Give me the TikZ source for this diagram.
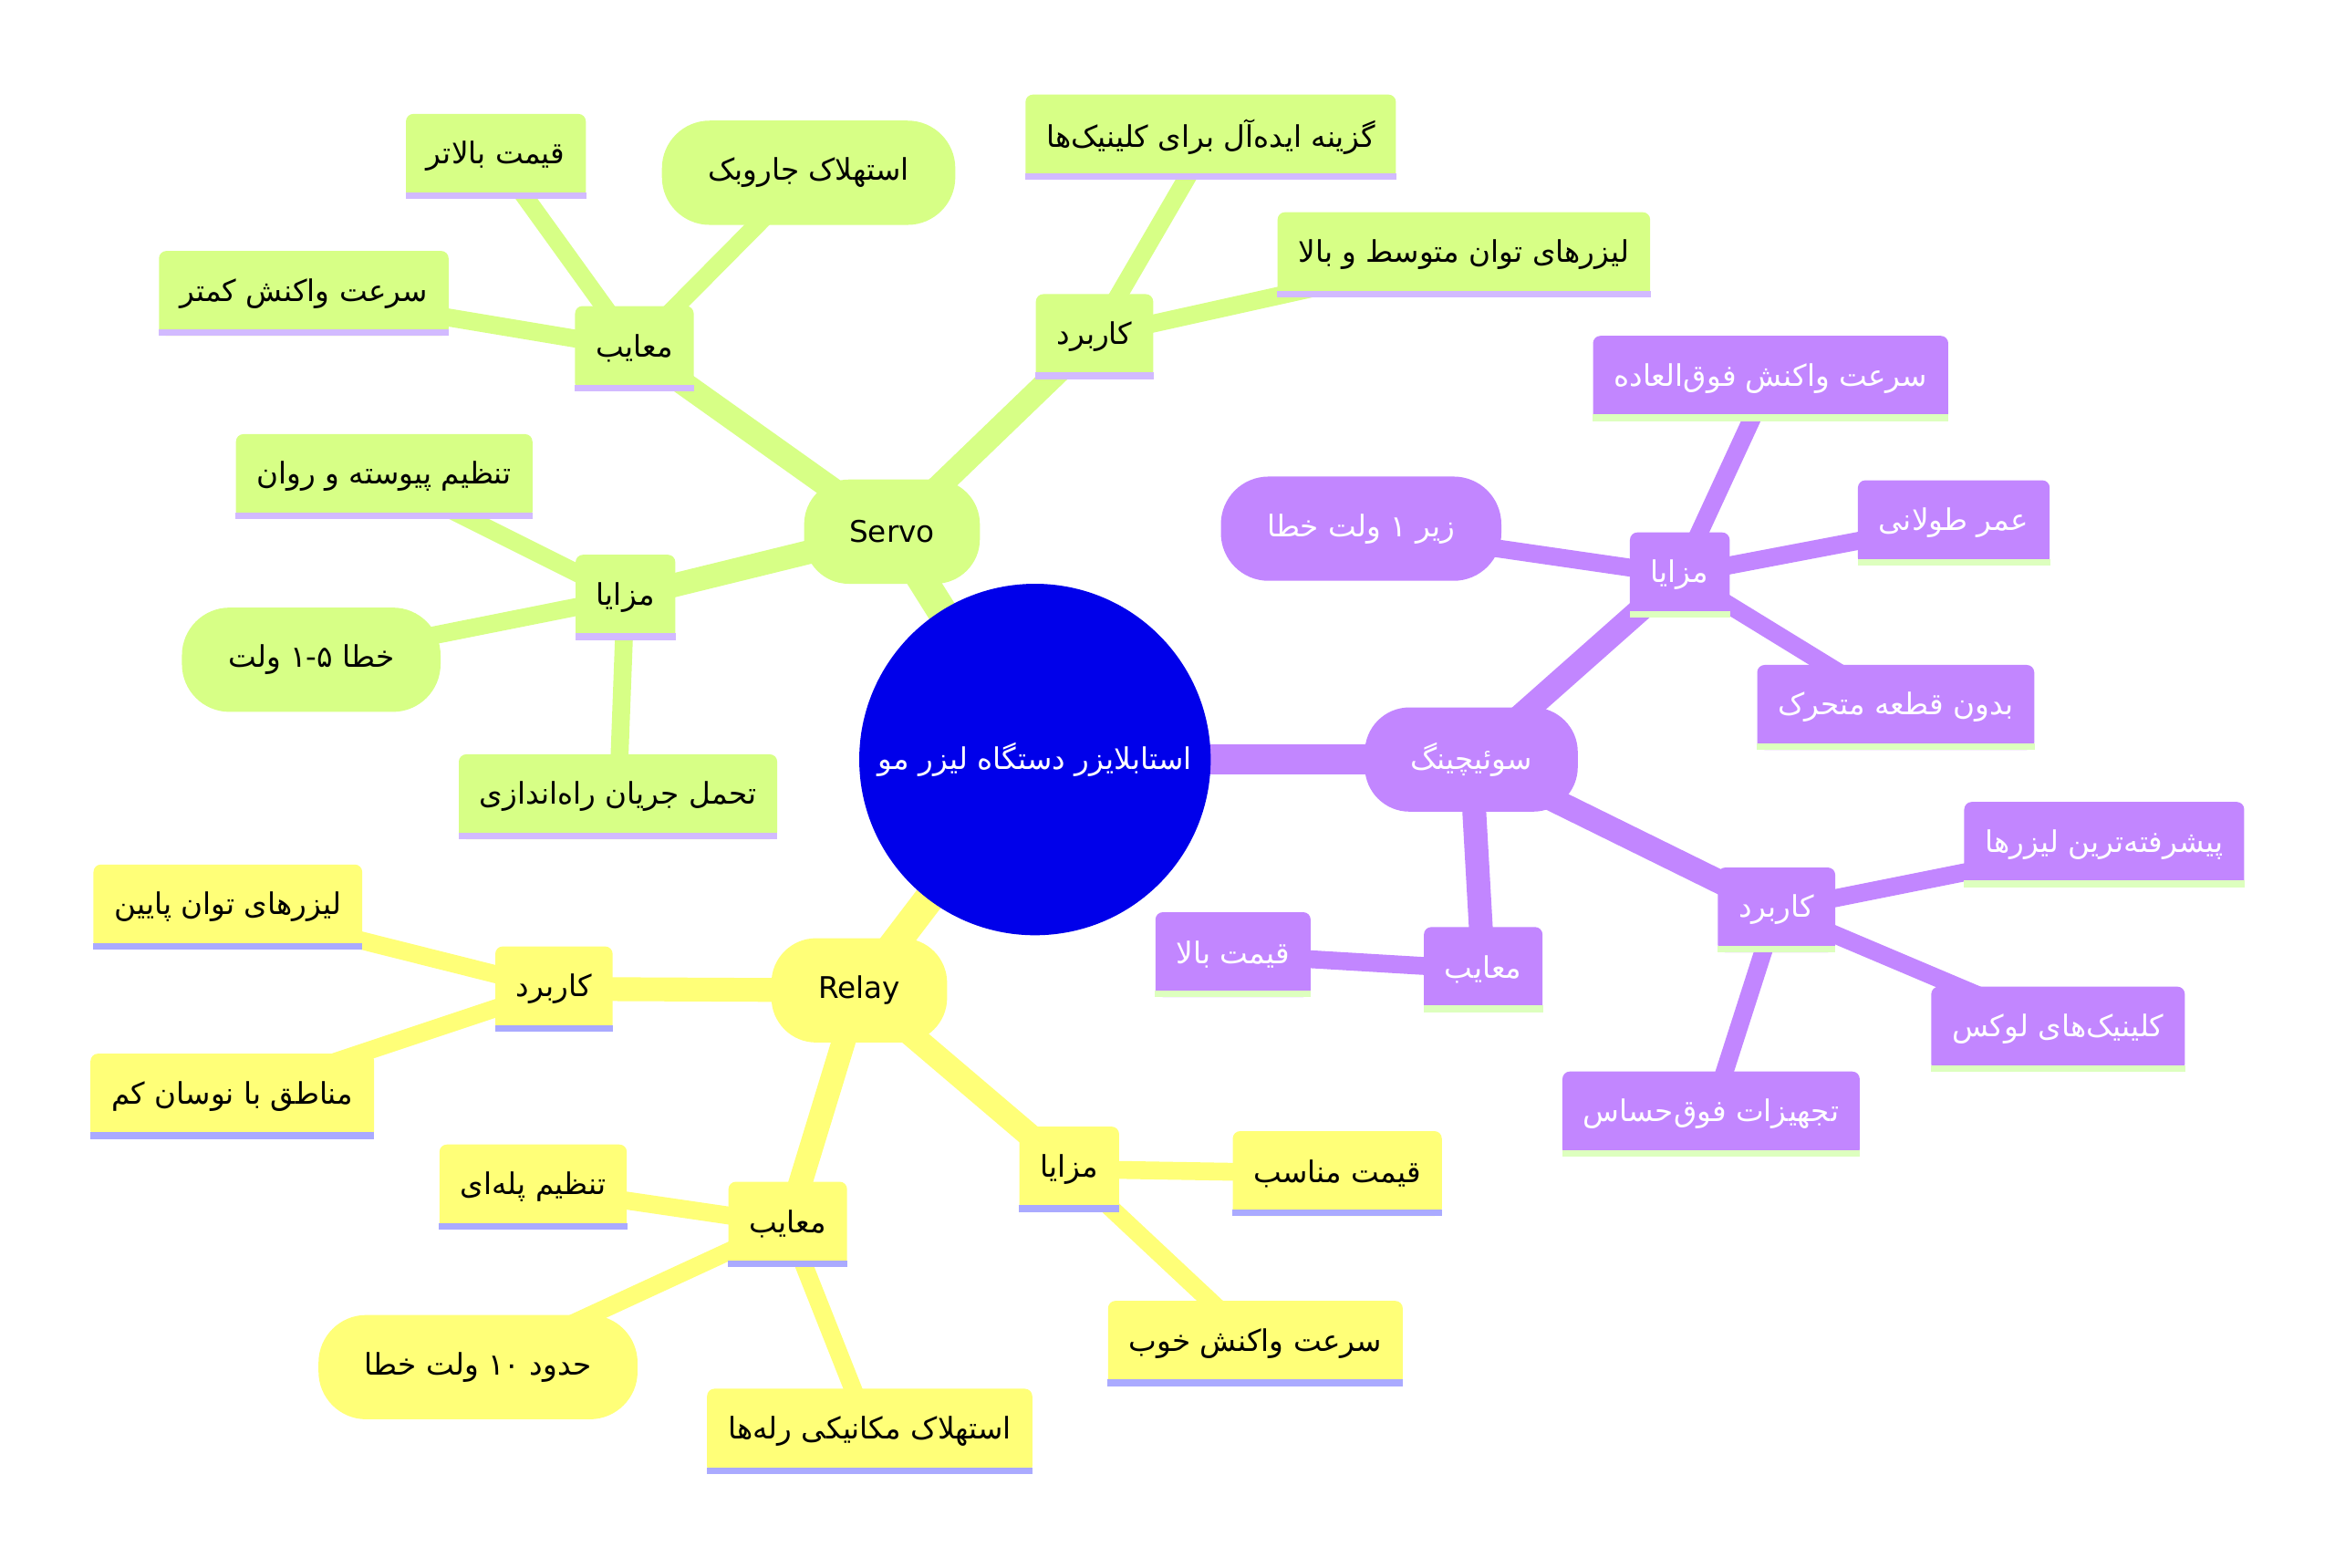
\documentclass[tikz,border=0pt]{standalone}
\usepackage{fontspec}
\setmainfont{DejaVu Sans}
\newfontfamily\arfont[Script=Arabic]{DejaVu Sans}
\TeXXeTstate=1
\usetikzlibrary{backgrounds}

\definecolor{rootblue}{RGB}{0,0,234}
\definecolor{servogreen}{RGB}{215,255,134}
\definecolor{relayyellow}{RGB}{255,255,120}
\definecolor{switchpurple}{RGB}{194,134,255}
\definecolor{servoline}{RGB}{210,186,255}
\definecolor{relayline}{RGB}{170,170,255}
\definecolor{switchline}{RGB}{221,255,190}

\newcommand\fatext[1]{\arfont\beginR #1\endR}

\tikzset{
  every node/.style={font=\fontsize{20}{24}\selectfont},
  rootnode/.style={circle, fill=rootblue, minimum size=236pt, inner sep=0pt, text=white},
  topnode/.style={rounded corners=30pt, minimum height=70pt, minimum width=118pt, inner xsep=18pt},
  leaf/.style={rounded corners=5pt, minimum height=57pt, inner xsep=14pt},
  pill/.style={rounded corners=32pt, minimum height=70pt, inner xsep=31pt},
  servofill/.style={fill=servogreen, text=black},
  relayfill/.style={fill=relayyellow, text=black},
  switchfill/.style={fill=switchpurple, text=white},
  lvlone/.style={line width=20pt},
  lvltwo/.style={line width=16pt},
  lvlthree/.style={line width=12pt}
}

\begin{document}
\begin{tikzpicture}[x=1pt, y=-1pt]
  \useasboundingbox (0,0) rectangle (1568,1052.3);

  % root
  \node[rootnode] (root) at (695,510) {\fatext{استابلایزر دستگاه لیزر مو}};

  % Servo branch
  \node[topnode, servofill] (servo) at (599,357) {Servo};
  \node[leaf, servofill] (sCons) at (426,234) {\fatext{معایب}};
  \node[leaf, servofill] (sConsA) at (333,105) {\fatext{قیمت بالاتر}};
  \node[pill, servofill] (sConsB) at (543,116) {\fatext{استهلاک جاروبک}};
  \node[leaf, servofill] (sConsC) at (204,197) {\fatext{سرعت واکنش کمتر}};
  \node[leaf, servofill] (sUse) at (735,226) {\fatext{کاربرد}};
  \node[leaf, servofill] (sUseA) at (813,92) {\fatext{گزینه ایده‌آل برای کلینیک‌ها}};
  \node[leaf, servofill] (sUseB) at (983,171) {\fatext{لیزرهای توان متوسط و بالا}};
  \node[leaf, servofill] (sPros) at (420,401) {\fatext{مزایا}};
  \node[leaf, servofill] (sProsA) at (258,320) {\fatext{تنظیم پیوسته و روان}};
  \node[pill, servofill] (sProsB) at (209,443) {\fatext{خطا \beginL۱-۵\endL{} ولت}};
  \node[leaf, servofill] (sProsC) at (415,535) {\fatext{تحمل جریان راه‌اندازی}};

  % Relay branch
  \node[topnode, relayfill] (relay) at (577,665) {Relay};
  \node[leaf, relayfill] (rUse) at (372,664) {\fatext{کاربرد}};
  \node[leaf, relayfill] (rUseA) at (153,609) {\fatext{لیزرهای توان پایین}};
  \node[leaf, relayfill] (rUseB) at (156,736) {\fatext{مناطق با نوسان کم}};
  \node[leaf, relayfill] (rCons) at (529,822) {\fatext{معایب}};
  \node[leaf, relayfill] (rConsA) at (358,797) {\fatext{تنظیم پله‌ای}};
  \node[pill, relayfill] (rConsB) at (321,918) {\fatext{حدود \beginL۱۰\endL{} ولت خطا}};
  \node[leaf, relayfill] (rConsC) at (584,961) {\fatext{استهلاک مکانیکی رله‌ها}};
  \node[leaf, relayfill] (rPros) at (718,785) {\fatext{مزایا}};
  \node[leaf, relayfill] (rProsA) at (898,788) {\fatext{قیمت مناسب}};
  \node[leaf, relayfill] (rProsB) at (843,902) {\fatext{سرعت واکنش خوب}};

  % Switching branch
  \node[topnode, switchfill, minimum width=143pt] (swtch) at (988,510) {\fatext{سوئیچینگ}};
  \node[leaf, switchfill] (wPros) at (1128,386) {\fatext{مزایا}};
  \node[leaf, switchfill] (wProsA) at (1189,254) {\fatext{سرعت واکنش فوق‌العاده}};
  \node[pill, switchfill] (wProsB) at (914,355) {\fatext{زیر ۱ ولت خطا}};
  \node[leaf, switchfill] (wProsC) at (1312,351) {\fatext{عمر طولانی}};
  \node[leaf, switchfill] (wProsD) at (1273,475) {\fatext{بدون قطعه متحرک}};
  \node[leaf, switchfill] (wUse) at (1193,611) {\fatext{کاربرد}};
  \node[leaf, switchfill] (wUseA) at (1413,567) {\fatext{پیشرفته‌ترین لیزرها}};
  \node[leaf, switchfill] (wUseB) at (1382,691) {\fatext{کلینیک‌های لوکس}};
  \node[leaf, switchfill] (wUseC) at (1149,748) {\fatext{تجهیزات فوق‌حساس}};
  \node[leaf, switchfill] (wCons) at (996,651) {\fatext{معایب}};
  \node[leaf, switchfill] (wConsA) at (828,641) {\fatext{قیمت بالا}};

  % underlines
  \foreach \n in {sCons, sConsA, sConsC, sUse, sUseA, sUseB, sPros, sProsA, sProsC}
    \fill[servoline] (\n.south west) rectangle ([yshift=4.5pt]\n.south east);
  \foreach \n in {rUse, rUseA, rUseB, rCons, rConsA, rConsC, rPros, rProsA, rProsB}
    \fill[relayline] (\n.south west) rectangle ([yshift=4.5pt]\n.south east);
  \foreach \n in {wPros, wProsA, wProsC, wProsD, wUse, wUseA, wUseB, wUseC, wCons, wConsA}
    \fill[switchline] (\n.south west) rectangle ([yshift=4.5pt]\n.south east);

  % edges
  \begin{scope}[on background layer]
    \draw[servogreen, lvlone] (root.center) -- (servo.center);
    \draw[relayyellow, lvlone] (root.center) -- (relay.center);
    \draw[switchpurple, lvlone] (root.center) -- (swtch.center);
    \foreach \a/\b in {servo/sCons, servo/sUse, servo/sPros}
      \draw[servogreen, lvltwo] (\a.center) -- (\b.center);
    \foreach \a/\b in {sCons/sConsA, sCons/sConsB, sCons/sConsC, sUse/sUseA, sUse/sUseB,
                       sPros/sProsA, sPros/sProsB, sPros/sProsC}
      \draw[servogreen, lvlthree] (\a.center) -- (\b.center);
    \foreach \a/\b in {relay/rUse, relay/rCons, relay/rPros}
      \draw[relayyellow, lvltwo] (\a.center) -- (\b.center);
    \foreach \a/\b in {rUse/rUseA, rUse/rUseB, rCons/rConsA, rCons/rConsB, rCons/rConsC,
                       rPros/rProsA, rPros/rProsB}
      \draw[relayyellow, lvlthree] (\a.center) -- (\b.center);
    \foreach \a/\b in {swtch/wPros, swtch/wUse, swtch/wCons}
      \draw[switchpurple, lvltwo] (\a.center) -- (\b.center);
    \foreach \a/\b in {wPros/wProsA, wPros/wProsB, wPros/wProsC, wPros/wProsD,
                       wUse/wUseA, wUse/wUseB, wUse/wUseC, wCons/wConsA}
      \draw[switchpurple, lvlthree] (\a.center) -- (\b.center);
  \end{scope}
\end{tikzpicture}
\end{document}
